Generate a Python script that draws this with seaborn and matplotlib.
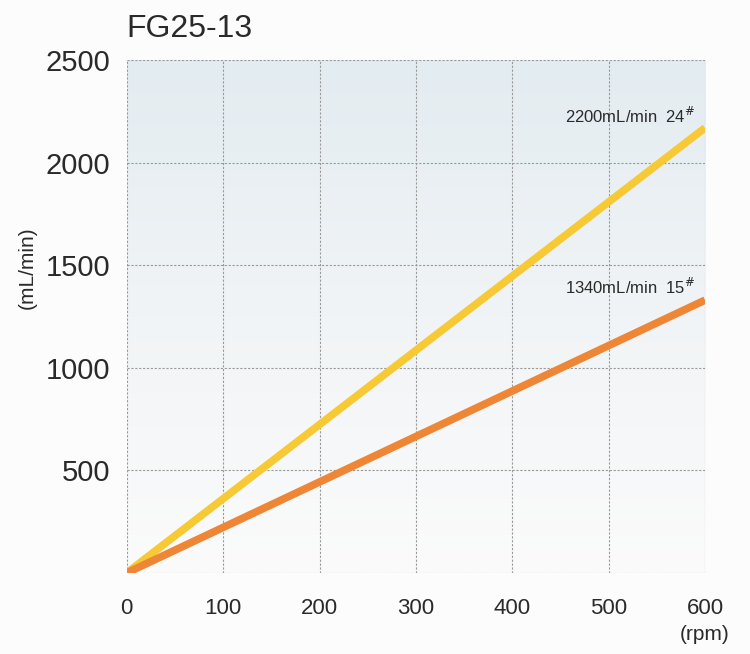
import numpy as np
import pandas as pd
import seaborn as sns
import matplotlib
matplotlib.use("Agg")
import matplotlib.pyplot as plt

# values
rpm = [0, 600]
flow_24 = [0, 2170]
flow_15 = [0, 1330]
series_names = ["24#", "15#"]
line_labels = ["2200mL/min  24$^{\\#}$", "1340mL/min  15$^{\\#}$"]
x_ticks = [0, 100, 200, 300, 400, 500, 600]
y_ticks = [0, 500, 1000, 1500, 2000, 2500]
y_tick_labels = ["", "500", "1000", "1500", "2000", "2500"]

df = pd.DataFrame({
    "rpm": rpm + rpm,
    "flow": flow_24 + flow_15,
    "tube": [series_names[0]] * 2 + [series_names[1]] * 2,
})

sns.set_theme(style="white")
plt.rcParams['font.family'] = ['Liberation Sans Narrow', 'Liberation Sans', 'DejaVu Sans']

fig = plt.figure(figsize=(7.5, 6.54), dpi=100)
fig.patch.set_facecolor("#fdfcfc")
ax = fig.add_axes([0.169, 0.124, 0.771, 0.784])

# soft blue-grey to white backdrop like the print
grad = np.linspace(0, 1, 256).reshape(-1, 1)
cmap = matplotlib.colors.LinearSegmentedColormap.from_list("bg", ["#e3ecf1", "#f1f4f6", "#fbfbfb"])
ax.imshow(grad, extent=[0, 600, 0, 2500], origin="upper", aspect="auto", cmap=cmap, zorder=0)

palette = {"24#": "#f7c934", "15#": "#ee8636"}
sns.lineplot(data=df, x="rpm", y="flow", hue="tube", palette=palette,
             linewidth=5.5, legend=False, ax=ax, zorder=3, solid_capstyle="butt")

ax.set_xlim(0, 600)
ax.set_ylim(0, 2500)
ax.set_xticks(x_ticks)
ax.set_xticklabels([str(t) for t in x_ticks], fontsize=16)
ax.set_yticks(y_ticks)
ax.set_yticklabels(y_tick_labels, fontsize=21)
ax.tick_params(axis="x", length=0, pad=18, colors="#2a2a2a")
ax.tick_params(axis="y", length=0, pad=12, colors="#2a2a2a")
ax.grid(True, color="#9a9a9a", linestyle=(0, (2, 1.5)), linewidth=0.8, zorder=1)
for s in ax.spines.values():
    s.set_visible(False)
ax.set_xlabel("")
ax.set_ylabel("")

ax.text(590, 2180, line_labels[0], ha="right", va="bottom", fontsize=12,
        color="#2a2a2a", family=['Liberation Sans', 'DejaVu Sans'])
ax.text(590, 1345, line_labels[1], ha="right", va="bottom", fontsize=12,
        color="#2a2a2a", family=['Liberation Sans', 'DejaVu Sans'])

fig.text(0.168, 0.955, "FG25-13", fontsize=23, color="#2a2a2a",
         family=['Liberation Sans', 'DejaVu Sans'], va="center", ha="left")
fig.text(0.037, 0.59, "(mL/min)", rotation=90, fontsize=15, color="#2a2a2a",
         family=['Liberation Sans', 'DejaVu Sans'], va="center", ha="center")
fig.text(0.94, 0.03, "(rpm)", fontsize=15, color="#2a2a2a",
         family=['Liberation Sans', 'DejaVu Sans'], va="center", ha="center")

fig.savefig("out.png", dpi=100, facecolor=fig.get_facecolor())
